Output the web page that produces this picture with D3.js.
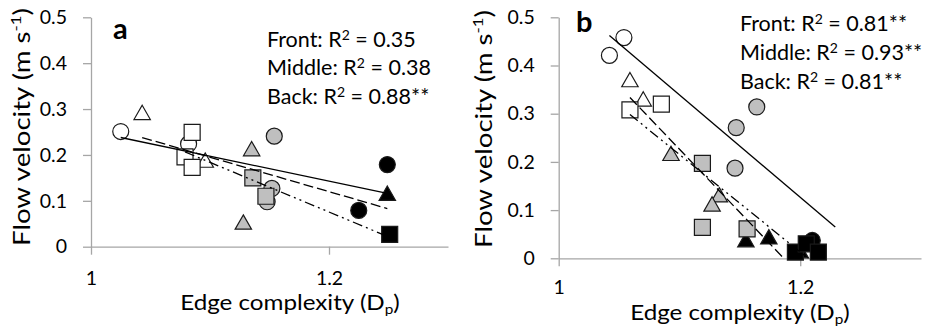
<!DOCTYPE html>
<html>
<head>
<meta charset="utf-8">
<script src="https://cdn.jsdelivr.net/npm/d3@7"></script>
<style>
  body { margin: 0; background: #fff; }
  svg text { font-family: Lato, "Open Sans", sans-serif; fill: #000; }
</style>
</head>
<body>
<div id="chart"></div>
<script>
// positions along the edge, each with its own regression
const positions = ['Front', 'Middle', 'Back'];
const xTicks = [1, 1.2];
const yTicks = [0, 0.1, 0.2, 0.3, 0.4, 0.5];

// [edge complexity Dp, flow velocity m/s, stage 0|1|2]
const frontA = [[1.025, 0.251, 0], [1.082, 0.224, 0], [1.154, 0.241, 1], [1.152, 0.127, 1],
                [1.148, 0.098, 1], [1.249, 0.179, 2], [1.225, 0.079, 2]];
const middleA = [[1.043, 0.292, 0], [1.096, 0.188, 0], [1.135, 0.213, 1], [1.128, 0.053, 1],
                 [1.249, 0.116, 2]];
const backA = [[1.085, 0.249, 0], [1.079, 0.196, 0], [1.085, 0.173, 0], [1.136, 0.150, 1],
               [1.147, 0.110, 1], [1.251, 0.027, 2]];

const frontB = [[1.042, 0.421, 0], [1.054, 0.458, 0], [1.164, 0.314, 1], [1.147, 0.271, 1],
                [1.146, 0.187, 1], [1.210, 0.037, 2]];
const middleB = [[1.059, 0.370, 0], [1.070, 0.330, 0], [1.093, 0.217, 1], [1.133, 0.131, 1],
                 [1.127, 0.112, 1], [1.155, 0.038, 2], [1.174, 0.044, 2], [1.200, 0.015, 2]];
const backB = [[1.059, 0.308, 0], [1.085, 0.320, 0], [1.119, 0.197, 1], [1.119, 0.064, 1],
               [1.156, 0.061, 1], [1.196, 0.013, 2], [1.205, 0.030, 2], [1.215, 0.013, 2]];

const r2A = ['0.35', '0.38', '0.88**'];
const r2B = ['0.81**', '0.93**', '0.81**'];
// trendline forward forecast (x units)
const forecastA = [0, 0, 0];
const forecastB = [0.019, 0, 0];

const stageFill = ['#ffffff', '#bfbfbf', '#000000'];
const dashes = [null, '10,4', '10,4,2,4,2,4'];

const panels = [
    {id: 'a', series: [frontA, middleA, backA], r2: r2A, forecast: forecastA,
     left: 91, right: 448, top: 17.3, bottom: 246.7, pad: 16,
     yTitleX: 30, yTitleY: 127, xTitleX: 290, xTitleY: 310, letterX: 113, letterY: 39,
     noteX: 267, noteY: 46.5, noteGap: 28.8},
    {id: 'b', series: [frontB, middleB, backB], r2: r2B, forecast: forecastB,
     left: 558.7, right: 921, top: 17.3, bottom: 258.3, pad: 14,
     yTitleX: 492, yTitleY: 129, xTitleX: 740, xTitleY: 320, letterX: 576, letterY: 32,
     noteX: 740, noteY: 30.5, noteGap: 29}
];

const svg = d3.select('#chart').append('svg')
    .attr('width', 932)
    .attr('height', 326);

function marker(shape) {
    if (shape === 0) return 'M8,0A8,8 0 1,1 -8,0A8,8 0 1,1 8,0Z';
    if (shape === 1) return 'M0,-7.5L8.2,6.8L-8.2,6.8Z';
    return 'M-8,-8H8V8H-8Z';
}

function fit(pts) {
    let mx = d3.mean(pts, d => d[0]), my = d3.mean(pts, d => d[1]);
    let sxy = d3.sum(pts, d => (d[0] - mx) * (d[1] - my));
    let sxx = d3.sum(pts, d => (d[0] - mx) ** 2);
    let slope = sxy / sxx;
    return x => my + slope * (x - mx);
}

panels.forEach(p => {
    let x = d3.scaleLinear().domain([1, 1.3]).range([p.left, p.right]);
    let y = d3.scaleLinear().domain([0, 0.5]).range([p.bottom, p.top]);
    let g = svg.append('g');

    let yAxis = g.append('g')
        .attr('transform', `translate(${p.left},0)`)
        .call(d3.axisLeft(y).tickValues(yTicks).tickSize(8).tickPadding(16).tickSizeOuter(0)
            .tickFormat(d3.format('')));
    let xAxis = g.append('g')
        .attr('transform', `translate(0,${p.bottom})`)
        .call(d3.axisBottom(x).tickValues(xTicks).tickSize(8).tickPadding(p.pad).tickSizeOuter(0)
            .tickFormat(d3.format('')));
    [xAxis, yAxis].forEach(ax => {
        ax.selectAll('path, line').attr('stroke', '#a6a6a6').attr('stroke-width', 1.3);
        ax.selectAll('text').attr('font-size', 19.5).attr('fill', '#000');
    });

    // markers
    p.series.forEach((pts, s) => {
        g.append('g').selectAll('path')
            .data(pts)
            .enter().append('path')
            .attr('d', marker(s))
            .attr('transform', d => `translate(${x(d[0])},${y(d[1])})`)
            .attr('fill', d => stageFill[d[2]])
            .attr('stroke', '#1a1a1a')
            .attr('stroke-width', 1.2);
    });

    // trendlines
    let clipId = 'clip-' + p.id;
    svg.append('clipPath').attr('id', clipId).append('rect')
        .attr('x', p.left).attr('y', p.top)
        .attr('width', p.right - p.left).attr('height', p.bottom - p.top);
    p.series.forEach((pts, s) => {
        let f = fit(pts);
        let x0 = d3.min(pts, d => d[0]), x1 = d3.max(pts, d => d[0]) + p.forecast[s];
        g.append('line')
            .attr('clip-path', `url(#${clipId})`)
            .attr('x1', x(x0)).attr('y1', y(f(x0)))
            .attr('x2', x(x1)).attr('y2', y(f(x1)))
            .attr('stroke', '#000')
            .attr('stroke-width', 1.3)
            .attr('stroke-dasharray', dashes[s]);
    });

    // titles
    let yt = g.append('text')
        .attr('transform', `translate(${p.yTitleX},${p.yTitleY}) rotate(-90) scale(1.2,1)`)
        .attr('text-anchor', 'middle')
        .attr('font-size', 23);
    yt.append('tspan').text('Flow velocity (m s');
    yt.append('tspan').attr('font-size', 14).attr('dy', -9).text('-1');
    yt.append('tspan').attr('dy', 9).text(')');

    let xt = g.append('text')
        .attr('transform', `translate(${p.xTitleX},${p.xTitleY}) scale(1.1,1)`)
        .attr('text-anchor', 'middle')
        .attr('font-size', 22);
    xt.append('tspan').text('Edge complexity (D');
    xt.append('tspan').attr('font-size', 14).attr('dy', 4).text('p');
    xt.append('tspan').attr('dy', -4).text(')');

    g.append('text')
        .attr('x', p.letterX).attr('y', p.letterY)
        .attr('font-size', 29).attr('font-weight', 'bold')
        .text(p.id);

    positions.forEach((name, i) => {
        let t = g.append('text')
            .attr('x', p.noteX)
            .attr('y', p.noteY + i * p.noteGap)
            .attr('font-size', 21.5);
        t.append('tspan').text(name + ': R');
        t.append('tspan').attr('font-size', 14).attr('dy', -7).text('2');
        t.append('tspan').attr('dy', 7).text(' = ' + p.r2[i]);
    });
});
</script>
</body>
</html>
